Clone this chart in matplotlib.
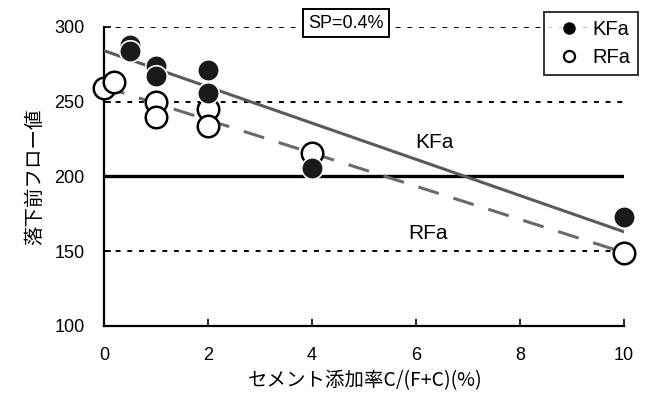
import numpy as np
import matplotlib
matplotlib.use("Agg")
import matplotlib.pyplot as plt
from matplotlib.lines import Line2D

plt.rcParams['font.family'] = ['Liberation Sans', 'Noto Sans CJK JP', 'DejaVu Sans']

# Data
kfa_x = [0.5, 0.5, 1, 1, 2, 2, 4, 10]
kfa_y = [288, 284, 274, 267, 271, 256, 206, 173]
rfa_x = [0, 0.2, 1, 1, 2, 2, 4, 10]
rfa_y = [259, 263, 250, 240, 245, 234, 216, 149]
ref_level = 200
grid_levels = [150, 250, 300]
xticks = [0, 2, 4, 6, 8, 10]
yticks = [100, 150, 200, 250, 300]

fig = plt.figure(figsize=(6.5, 3.94), dpi=100)
ax = fig.add_axes([0.16, 0.1726, 0.80, 0.7589])
ax.set_xlim(0, 10)
ax.set_ylim(100, 300)

for g in grid_levels:
    ax.axhline(g, color='black', lw=1.4, ls=(0, (2.5, 3.5)), zorder=1)
ax.axhline(ref_level, color='black', lw=2.4, zorder=2)

xx = np.array([0, 10])
pk = np.polyfit(kfa_x, kfa_y, 1)
pr = np.polyfit(rfa_x, rfa_y, 1)
ax.plot(xx, np.polyval(pk, xx), color='#5a5a5a', lw=2.2, zorder=3)
ax.plot(xx, np.polyval(pr, xx), color='#6a6a6a', lw=2.2, ls=(0, (7, 5)), zorder=3)

ax.scatter(rfa_x, rfa_y, s=240, facecolor='white', edgecolor='black', linewidths=1.8, zorder=4, clip_on=False)
ax.scatter(kfa_x, kfa_y, s=240, facecolor='#1a1a1a', edgecolor='white', linewidths=1.2, zorder=5, clip_on=False)

for s in ['top', 'right']:
    ax.spines[s].set_visible(False)
for s in ['left', 'bottom']:
    ax.spines[s].set_linewidth(1.6)

ax.set_xticks(xticks)
ax.set_yticks(yticks)
ax.tick_params(axis='both', direction='in', length=5, width=1.2, labelsize=13)
ax.tick_params(axis='x', pad=15)
ax.tick_params(axis='y', pad=14)

ax.set_xlabel('セメント添加率C/(F+C)(%)', fontsize=14,
              family=['Noto Sans CJK JP', 'DejaVu Sans'])
ax.set_ylabel('落下前フロー値', fontsize=14,
              family=['Noto Sans CJK JP', 'DejaVu Sans'])
ax.xaxis.set_label_coords(0.502, -0.184)
ax.xaxis.label.set_verticalalignment('center')
ax.yaxis.set_label_coords(-0.133, 0.5)
ax.yaxis.label.set_verticalalignment('center')

ax.text(6.35, 223, 'KFa', fontsize=15, ha='center', va='center')
ax.text(6.23, 162, 'RFa', fontsize=15, ha='center', va='center')

ax.text(4.65, 302.5, 'SP=0.4%', fontsize=13, ha='center', va='center', zorder=6,
        bbox=dict(boxstyle='square,pad=0.3', facecolor='white', edgecolor='black', lw=1.4))

handles = [Line2D([], [], marker='o', ls='', markersize=8, markerfacecolor='black', markeredgecolor='black'),
           Line2D([], [], marker='o', ls='', markersize=8, markerfacecolor='white', markeredgecolor='black', markeredgewidth=1.6)]
leg = fig.legend(handles, ['KFa', 'RFa'], loc='upper right', bbox_to_anchor=(0.982, 0.97),
                 fontsize=14.5, frameon=True, fancybox=False, edgecolor='black', borderaxespad=0,
                 handletextpad=0.3, borderpad=0.4, labelspacing=0.45, handlelength=1.7)
leg.get_frame().set_linewidth(1.4)

fig.savefig('out.png', dpi=100)
